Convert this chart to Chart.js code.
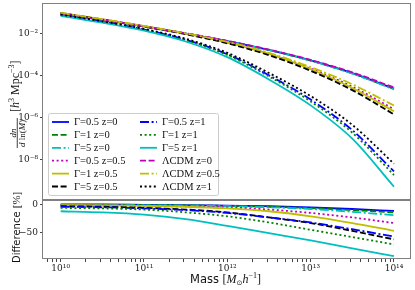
<!DOCTYPE html>
<html>
<head>
<meta charset="utf-8">
<script src="https://cdn.jsdelivr.net/npm/chart.js@4.4.1/dist/chart.umd.min.js"></script>
<style>
  body { margin: 0; background: #fff; }
  #wrap { position: relative; width: 415px; height: 290px; }
  canvas { position: absolute; left: 0; top: 0; }
</style>
</head>
<body>
<div id="wrap">
  <canvas id="topChart" width="415" height="290"></canvas>
  <canvas id="botChart" width="415" height="290"></canvas>
</div>
<script>
// halo mass grid [M_sun/h]
const masses = [1e10, 3.16e10, 1e11, 3.16e11, 1e12, 3.16e12, 1e13, 3.16e13, 1e14];

// dn/dln(M) [h^3 Mpc^-3]
const g05z0 = [8.9e-2, 4.47e-2, 2.18e-2, 1.01e-2, 4.38e-3, 1.65e-3, 5.23e-4, 1.30e-4, 2.38e-5];
const g1z0 = [8.86e-2, 4.45e-2, 2.17e-2, 1.00e-2, 4.36e-3, 1.63e-3, 5.14e-4, 1.27e-4, 2.31e-5];
const g5z0 = [8.81e-2, 4.43e-2, 2.16e-2, 1.00e-2, 4.34e-3, 1.62e-3, 5.06e-4, 1.23e-4, 2.18e-5];
const g05z05 = [9.45e-2, 4.72e-2, 2.23e-2, 9.84e-3, 3.78e-3, 1.09e-3, 2.13e-4, 2.93e-5, 2.49e-6];
const g1z05 = [9.45e-2, 4.72e-2, 2.23e-2, 9.79e-3, 3.70e-3, 1.06e-3, 1.98e-4, 2.55e-5, 1.97e-6];
const g5z05 = [9.26e-2, 4.60e-2, 2.15e-2, 9.28e-3, 3.42e-3, 9.24e-4, 1.68e-4, 2.01e-5, 1.41e-6];
const g05z1 = [7.62e-2, 3.61e-2, 1.54e-2, 5.06e-3, 1.02e-3, 1.02e-4, 7.14e-6, 2.50e-7, 2.71e-9];
const g1z1 = [7.46e-2, 3.53e-2, 1.51e-2, 4.83e-3, 9.48e-4, 8.98e-5, 5.78e-6, 1.88e-7, 1.83e-9];
const g5z1 = [6.99e-2, 3.27e-2, 1.36e-2, 4.16e-3, 7.44e-4, 6.47e-5, 3.78e-6, 9.83e-8, 5.05e-10];
const lcdmz0 = [8.9e-2, 4.47e-2, 2.19e-2, 1.02e-2, 4.47e-3, 1.70e-3, 5.5e-4, 1.41e-4, 2.69e-5];
const lcdmz05 = [9.55e-2, 4.79e-2, 2.29e-2, 1.02e-2, 3.98e-3, 1.20e-3, 2.51e-4, 3.8e-5, 3.72e-6];
const lcdmz1 = [7.94e-2, 3.8e-2, 1.66e-2, 5.62e-3, 1.20e-3, 1.32e-4, 1.05e-5, 4.47e-7, 6.31e-9];

// difference to LCDM [%]
const d05z0 = [0, 0, -0.5, -1, -2, -3, -5, -8, -11.5];
const d1z0 = [-0.5, -0.5, -1, -1.5, -2.5, -4, -6.5, -10, -14];
const d5z0 = [-1, -1, -1.5, -2, -3, -5, -8, -13, -19];
const d05z05 = [-1, -1.5, -2.5, -3.5, -5, -9, -15, -23, -33];
const d1z05 = [-1, -1.5, -2.5, -4, -7, -12, -21, -33, -47];
const d5z05 = [-3, -4, -6, -9, -14, -23, -33, -47, -62];
const d05z1 = [-4, -5, -7, -10, -15, -23, -32, -44, -57];
const d1z1 = [-6, -7, -9, -14, -21, -32, -45, -58, -71];
const d5z1 = [-12, -14, -18, -26, -38, -51, -64, -78, -92];

const labels = ["Γ=0.5 z=0", "Γ=1 z=0", "Γ=5 z=0", "Γ=0.5 z=0.5", "Γ=1 z=0.5", "Γ=5 z=0.5",
  "Γ=0.5 z=1", "Γ=1 z=1", "Γ=5 z=1", "ΛCDM z=0", "ΛCDM z=0.5", "ΛCDM z=1"];
const topSeries = [g05z0, g1z0, g5z0, g05z05, g1z05, g5z05, g05z1, g1z1, g5z1, lcdmz0, lcdmz05, lcdmz1];
const diffSeries = [d05z0, d1z0, d5z0, d05z05, d1z05, d5z05, d05z1, d1z1, d5z1];

const yTopTicks = [1e-2, 1e-4, 1e-6, 1e-8];
const yBotTicks = [0, -50];

const colors = ["#0000ff", "#008000", "#00bfbf", "#bf00bf", "#bfbf00", "#000000"];
const dashes = [[], [6, 2.6], [9, 2.6, 2, 2.6], [2, 2.6]];
const frameColor = "#808080";
const sup = { "0": "⁰", "1": "¹", "2": "²", "3": "³", "4": "⁴", "5": "⁵", "6": "⁶", "7": "⁷", "8": "⁸", "9": "⁹", "-": "⁻" };

function power(v) {
  const e = Math.round(Math.log10(v));
  return "10" + String(e).split("").map(c => sup[c]).join("");
}

function lineStyle(i) {
  return {
    borderColor: colors[i % 6],
    borderDash: dashes[i % 4],
    borderWidth: 1.8,
    pointRadius: 0,
    fill: false,
    cubicInterpolationMode: "monotone",
    order: 20 - i,
  };
}

function makeSet(values, i) {
  return Object.assign({ label: labels[i], data: values.map((v, k) => ({ x: masses[k], y: v })) }, lineStyle(i));
}

// draw a row of text pieces with different fonts
function rich(ctx, x, y, parts) {
  parts.forEach(p => {
    ctx.font = p.font;
    ctx.fillText(p.t, x, y + (p.dy || 0));
    x += ctx.measureText(p.t).width;
  });
}

// keep chart area exactly where the layout padding puts it
function noPad(scale) {
  scale.paddingTop = 0;
  scale.paddingBottom = 0;
  scale.paddingLeft = 0;
  scale.paddingRight = 0;
}

const serif = "Liberation Serif";
const xMin = 6.14e9, xMax = 1.6e14;

function xTicks(scale) {
  const t = [];
  for (let e = 9; e <= 14; e++) {
    for (let m = 1; m <= 9; m++) {
      const v = m * Math.pow(10, e);
      if (v >= xMin && v <= xMax) t.push({ value: v });
    }
  }
  scale.ticks = t;
}

const framePlugin = {
  id: "frame",
  afterDatasetsDraw(chart) {
    const a = chart.chartArea, ctx = chart.ctx;
    ctx.save();
    ctx.strokeStyle = frameColor;
    ctx.lineWidth = 1;
    ctx.strokeRect(Math.round(a.left) - 0.5, Math.round(a.top) + 0.5, Math.round(a.right - a.left), Math.round(a.bottom - a.top) - 1);
    ctx.restore();
  }
};

const legendPlugin = {
  id: "boxLegend",
  afterDraw(chart) {
    const ctx = chart.ctx;
    ctx.save();
    ctx.fillStyle = "rgba(255,255,255,0.85)";
    ctx.strokeStyle = "#cccccc";
    ctx.lineWidth = 1;
    ctx.beginPath();
    ctx.roundRect(48.5, 113.5, 170, 82, 2);
    ctx.fill();
    ctx.stroke();
    ctx.textBaseline = "middle";
    ctx.fillStyle = "#111";
    ctx.font = "10.5px '" + serif + "'";
    labels.forEach((lab, i) => {
      const col = Math.floor(i / 6), row = i % 6;
      const x0 = col === 0 ? 52 : 140;
      const y = 122 + row * 12.9;
      ctx.strokeStyle = colors[i % 6];
      ctx.lineWidth = 1.8;
      ctx.setLineDash(dashes[i % 4]);
      ctx.beginPath();
      ctx.moveTo(x0, y);
      ctx.lineTo(x0 + 17, y);
      ctx.stroke();
      ctx.setLineDash([]);
      ctx.fillText(lab, x0 + 22, y + 0.5);
    });
    ctx.restore();
  }
};

const topTitles = {
  id: "topTitles",
  afterDraw(chart) {
    const ctx = chart.ctx;
    ctx.save();
    ctx.fillStyle = "#111";
    ctx.translate(19, 112);
    ctx.rotate(-Math.PI / 2);
    ctx.textBaseline = "alphabetic";
    rich(ctx, 0, 0, [
      { t: "[", font: "12px '" + serif + "'" },
      { t: "h", font: "italic 12px '" + serif + "'" },
      { t: "3", font: "8px '" + serif + "'", dy: -5 },
      { t: " Mpc", font: "12px '" + serif + "'" },
      { t: "−3", font: "8px '" + serif + "'", dy: -5 },
      { t: "]", font: "12px '" + serif + "'" },
    ]);
    // fraction dn / dln(M)
    ctx.font = "italic 9px '" + serif + "'";
    const nw = ctx.measureText("dn").width;
    ctx.fillText("dn", -21 - nw / 2, -3.5);
    ctx.fillRect(-36, -2.2, 30, 0.8);
    const dw = 28;
    rich(ctx, -21 - dw / 2, 6, [
      { t: "d", font: "italic 9px '" + serif + "'" },
      { t: " ln(", font: "9px '" + serif + "'" },
      { t: "M", font: "italic 9px '" + serif + "'" },
      { t: ")", font: "9px '" + serif + "'" },
    ]);
    ctx.restore();
  }
};

const botTitles = {
  id: "botTitles",
  afterDraw(chart) {
    const ctx = chart.ctx;
    ctx.save();
    ctx.fillStyle = "#111";
    rich(ctx, 190, 283, [
      { t: "Mass ", font: "11.5px 'DejaVu Sans'" },
      { t: "[", font: "12px '" + serif + "'" },
      { t: "M", font: "italic 12px '" + serif + "'" },
      { t: "⊙", font: "7px 'DejaVu Sans'", dy: 2 },
      { t: "h", font: "italic 12px '" + serif + "'" },
      { t: "−1", font: "8px '" + serif + "'", dy: -5 },
      { t: "]", font: "12px '" + serif + "'" },
    ]);
    ctx.translate(20, 263);
    ctx.rotate(-Math.PI / 2);
    rich(ctx, 0, 0, [
      { t: "Difference ", font: "10px 'DejaVu Sans'" },
      { t: "[%]", font: "11px '" + serif + "'" },
    ]);
    ctx.restore();
  }
};

const tickFont = { family: "DejaVu Serif", size: 9 };

new Chart(document.getElementById("topChart"), {
  type: "line",
  data: { datasets: topSeries.map((s, i) => makeSet(s, i)) },
  options: {
    responsive: false,
    animation: false,
    layout: { padding: { left: 0, right: 4, top: 3, bottom: 90 } },
    plugins: { legend: { display: false }, tooltip: { enabled: false } },
    scales: {
      x: { type: "logarithmic", min: xMin, max: xMax, display: false },
      y: {
        type: "logarithmic",
        min: 1.18e-10,
        max: 0.283,
        afterFit(scale) { scale.width = 43; noPad(scale); },
        afterBuildTicks(scale) { scale.ticks = yTopTicks.map(v => ({ value: v })); },
        border: { display: false },
        grid: { drawOnChartArea: false, drawTicks: true, tickLength: 3, color: "#444" },
        ticks: { font: tickFont, color: "#222", padding: 2, callback: v => power(v) },
      },
    },
  },
  plugins: [framePlugin, legendPlugin, topTitles],
});

new Chart(document.getElementById("botChart"), {
  type: "line",
  data: { datasets: diffSeries.map((s, i) => makeSet(s, i)) },
  options: {
    responsive: false,
    animation: false,
    layout: { padding: { left: 0, right: 4, top: 200, bottom: 0 } },
    plugins: { legend: { display: false }, tooltip: { enabled: false } },
    scales: {
      x: {
        type: "logarithmic",
        min: xMin,
        max: xMax,
        afterFit(scale) { scale.height = 31; noPad(scale); },
        afterBuildTicks: xTicks,
        border: { display: false },
        grid: { drawOnChartArea: false, drawTicks: true, tickLength: 3, color: "#444" },
        ticks: {
          font: tickFont, color: "#222", padding: 1, autoSkip: false, maxRotation: 0,
          callback: v => {
            const e = Math.log10(v);
            return Math.abs(e - Math.round(e)) < 1e-6 ? power(v) : "";
          },
        },
      },
      y: {
        min: -97,
        max: 8,
        afterFit(scale) { scale.width = 43; noPad(scale); },
        afterBuildTicks(scale) { scale.ticks = yBotTicks.map(v => ({ value: v })); },
        border: { display: false },
        grid: { drawOnChartArea: false, drawTicks: true, tickLength: 3, color: "#444" },
        ticks: { font: tickFont, color: "#222", padding: 2, callback: v => (v < 0 ? "−" + Math.abs(v) : String(v)) },
      },
    },
  },
  plugins: [framePlugin, botTitles],
});
</script>
</body>
</html>
